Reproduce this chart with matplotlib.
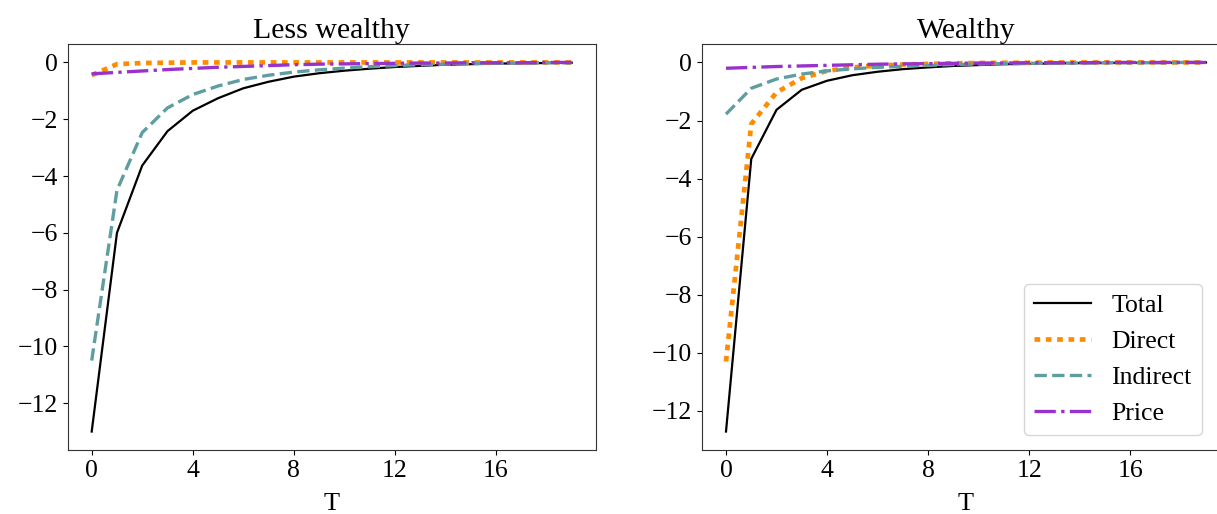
import matplotlib
matplotlib.use("Agg")
import matplotlib.pyplot as plt

plt.rcParams['font.family'] = ['Liberation Serif', 'DejaVu Serif']

T = list(range(20))

# Less wealthy
lw_total = [-13.0, -6.0, -3.63, -2.42, -1.70, -1.26, -0.91, -0.68, -0.50, -0.38,
            -0.29, -0.22, -0.16, -0.12, -0.08, -0.06, -0.04, -0.03, -0.02, -0.01]
lw_direct = [-0.45, -0.06, -0.02, -0.01, 0.0, 0.0, 0.0, 0.0, 0.0, 0.0,
             0.0, 0.0, 0.0, 0.0, 0.0, 0.0, 0.0, 0.0, 0.0, 0.0]
lw_indirect = [-10.5, -4.5, -2.47, -1.60, -1.13, -0.83, -0.60, -0.45, -0.34, -0.26,
               -0.20, -0.15, -0.11, -0.08, -0.06, -0.04, -0.03, -0.02, -0.01, -0.01]
lw_price = [-0.40, -0.35, -0.30, -0.25, -0.21, -0.17, -0.14, -0.11, -0.08, -0.06,
            -0.05, -0.04, -0.03, -0.02, -0.02, -0.01, -0.01, -0.01, 0.0, 0.0]

# Wealthy
w_total = [-12.71, -3.32, -1.63, -0.94, -0.63, -0.44, -0.32, -0.23, -0.17, -0.12,
           -0.09, -0.06, -0.05, -0.03, -0.02, -0.02, -0.01, -0.01, -0.01, 0.0]
w_direct = [-10.3, -2.12, -1.03, -0.54, -0.29, -0.17, -0.11, -0.07, -0.05, -0.03,
            -0.02, -0.01, -0.01, 0.0, 0.0, 0.0, 0.0, 0.0, 0.0, 0.0]
w_indirect = [-1.78, -0.89, -0.57, -0.40, -0.29, -0.22, -0.17, -0.13, -0.10, -0.07,
              -0.05, -0.04, -0.03, -0.02, -0.02, -0.01, -0.01, -0.01, 0.0, 0.0]
w_price = [-0.20, -0.17, -0.14, -0.12, -0.10, -0.08, -0.06, -0.05, -0.04, -0.03,
           -0.02, -0.02, -0.01, -0.01, -0.01, 0.0, 0.0, 0.0, 0.0, 0.0]

titles = ["Less wealthy", "Wealthy"]
labels = ["Total", "Direct", "Indirect", "Price"]
xticks = [0, 4, 8, 12, 16]
yticks = [0, -2, -4, -6, -8, -10, -12]

W, H = 1217, 514
fig = plt.figure(figsize=(W / 100, H / 100), dpi=100)

ax_w = 528 / W
ax_h = 406 / H
ax_b = (H - 450) / H
ax1 = fig.add_axes([67.7 / W, ax_b, ax_w, ax_h])
ax2 = fig.add_axes([702 / W, ax_b, ax_w, ax_h])

series = [
    (lw_total, lw_direct, lw_indirect, lw_price),
    (w_total, w_direct, w_indirect, w_price),
]

styles = [
    dict(color="black", linestyle="-", linewidth=1.6),
    dict(color="darkorange", linestyle=(0, (1.2, 1.2)), linewidth=3.4),
    dict(color="cadetblue", linestyle="--", linewidth=2.4),
    dict(color="darkorchid", linestyle="-.", linewidth=2.4),
]

for ax, data, title in zip([ax1, ax2], series, titles):
    for vals, st, lab in zip(data, styles, labels):
        ax.plot(T, vals, label=lab, **st)
    ax.set_title(title, fontsize=21.5, pad=4)
    ax.set_xlabel("T", fontsize=19, labelpad=8)
    ax.set_xticks(xticks)
    ax.set_yticks(yticks)
    ax.tick_params(labelsize=18.5)
    for s in ax.spines.values():
        s.set_color("#333333")

leg = ax2.legend(loc="lower right", bbox_to_anchor=(0.947, 0.037), borderaxespad=0,
                 fontsize=18.5, handlelength=2.2)

fig.savefig("out.png", dpi=100)
